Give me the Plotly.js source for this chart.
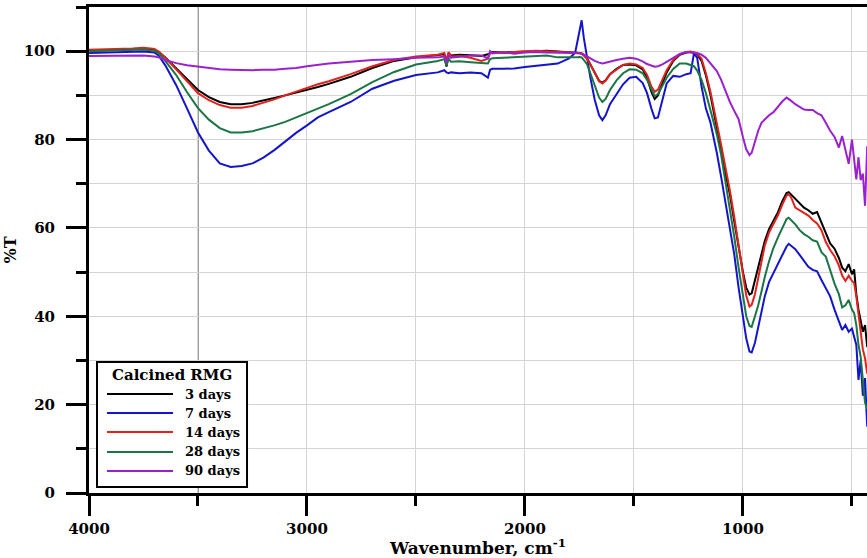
<!DOCTYPE html>
<html>
<head>
<meta charset="utf-8">
<script src="https://cdn.plot.ly/plotly-3.0.1.min.js"></script>
<style>html,body{margin:0;padding:0;background:#fff;}#chart{width:867px;height:558px;}</style>
</head>
<body>
<div id="chart"></div>
<script>
// Wavenumber grid (cm^-1)
const wavenumber = [4000,3900,3800,3750,3700,3680,3650,3600,3550,3500,3450,3400,3350,3300,3250,3200,3150,3100,3050,3000,2950,2900,2800,2700,2600,2500,2400,2370,2360,2350,2340,2300,2250,2200,2170,2160,2150,2100,2050,2000,1950,1900,1850,1800,1770,1750,1740,1730,1715,1700,1680,1660,1645,1630,1610,1580,1550,1520,1490,1460,1440,1420,1405,1390,1370,1350,1320,1290,1260,1240,1225,1210,1190,1170,1150,1120,1100,1080,1060,1040,1020,1000,985,970,960,945,930,915,900,880,860,840,820,800,790,780,760,740,720,700,680,660,640,620,600,580,560,545,530,515,500,490,480,470,460,450,440,430];

const legendTitle = "Calcined RMG";
const seriesNames = ["3 days","7 days","14 days","28 days","90 days"];

const days3 = [100.1,100.3,100.4,100.5,100.3,99.8,98.6,96.2,93.6,91.2,89.6,88.5,88.0,88.0,88.3,88.8,89.4,90.0,90.6,91.2,91.9,92.6,94.2,96.2,97.8,98.6,99.1,99.3,96.5,99.6,99.0,99.2,99.1,98.9,99.3,99.6,99.8,99.7,99.8,100.0,100.1,100.1,99.9,99.8,99.7,99.6,99.5,99.2,98.4,97.0,95.0,93.3,92.9,93.4,94.8,96.0,96.9,97.0,96.8,95.9,94.0,90.8,89.2,90.0,92.7,95.2,97.8,99.2,99.7,99.8,99.6,99.3,97.8,94.5,90.3,83.0,77.5,72.2,67.6,61.5,55.5,50.0,46.5,44.9,45.2,48.0,51.0,54.2,57.0,59.8,61.8,63.5,66.0,67.9,68.1,67.6,66.4,65.5,64.6,64.0,63.2,63.6,61.2,58.5,56.5,55.3,53.2,51.0,50.2,51.8,49.5,50.6,45.0,41.5,39.0,36.5,38.0,33.0];

const days7 = [99.6,99.7,99.8,99.9,99.7,99.0,96.8,92.3,87.0,81.6,77.5,74.6,73.8,74.0,74.6,75.9,77.6,79.6,81.5,83.2,85.0,86.2,88.5,91.5,93.3,94.6,95.2,95.7,95.2,95.0,95.2,95.0,95.2,95.0,94.0,95.8,96.0,96.0,96.1,96.4,96.7,97.0,97.2,98.3,99.6,104.5,107.0,103.0,98.0,94.0,89.0,85.5,84.4,85.5,88.0,90.4,92.5,94.0,94.2,92.8,90.5,87.0,84.8,85.0,89.0,92.7,94.4,94.2,94.8,95.0,99.5,98.5,92.0,87.0,84.0,77.0,71.5,65.5,59.5,54.0,46.5,40.0,35.0,32.0,31.8,34.0,37.6,41.0,44.5,47.8,49.8,51.5,53.8,55.8,56.4,56.0,55.2,53.9,52.5,51.2,50.5,50.2,48.2,46.3,44.5,41.5,39.0,36.9,38.0,36.5,37.2,35.0,33.5,25.6,30.0,22.0,26.0,15.0];

const days14 = [100.3,100.4,100.6,100.8,100.5,99.9,98.5,95.9,93.1,90.5,88.9,87.8,87.2,87.2,87.6,88.3,89.1,90.0,90.9,91.7,92.5,93.2,94.8,96.6,98.0,98.8,99.2,99.6,98.0,99.8,98.8,98.9,98.5,97.8,98.3,99.5,99.7,99.6,99.8,100.0,100.1,100.0,99.9,99.8,99.7,99.6,99.5,99.0,98.2,97.0,95.0,93.2,92.7,93.3,94.8,95.9,96.9,97.2,97.0,96.2,94.6,92.0,90.8,91.3,93.5,95.7,98.0,99.3,99.8,99.9,99.7,99.4,98.3,95.0,91.0,84.0,78.8,73.6,68.5,62.5,55.8,49.3,44.7,42.2,42.6,45.0,48.5,52.5,56.0,59.0,61.0,62.8,65.2,67.3,67.6,67.0,64.6,64.0,63.4,62.8,61.8,61.0,59.5,56.8,55.0,53.6,51.5,49.2,48.0,49.2,48.0,47.5,44.5,40.5,37.0,32.5,30.5,27.0];

const days28 = [100.0,100.1,100.3,100.4,100.1,99.5,97.8,94.6,90.7,87.1,84.5,82.6,81.6,81.6,81.9,82.5,83.2,84.0,85.0,86.0,87.0,88.0,90.3,93.0,95.3,97.0,97.8,98.2,96.8,98.3,97.6,97.7,97.5,97.4,97.2,98.2,98.4,98.5,98.6,98.8,98.9,99.0,98.6,98.5,98.6,98.7,98.6,98.0,97.0,95.0,92.0,89.5,88.5,89.2,91.2,93.4,95.0,95.9,95.8,95.0,93.5,91.2,89.8,90.3,92.3,94.0,96.0,97.2,97.2,96.9,96.6,95.6,93.5,90.5,86.8,81.2,76.5,70.5,64.5,58.0,51.0,44.5,40.0,37.8,37.6,40.0,42.5,45.6,48.9,52.5,55.5,57.8,60.0,62.0,62.3,61.8,60.8,59.5,58.6,58.0,57.2,56.9,54.5,53.5,50.5,47.4,45.0,42.0,42.5,43.7,41.5,40.7,38.0,33.5,30.8,26.0,20.5,19.0];

const days90 = [98.9,99.0,99.0,99.0,98.8,98.6,98.0,97.3,96.8,96.5,96.2,95.9,95.8,95.7,95.7,95.8,95.8,96.0,96.2,96.6,96.9,97.2,97.6,98.0,98.2,98.5,98.6,98.8,97.5,99.0,98.5,98.7,99.0,99.0,98.4,100.0,99.5,99.8,99.4,99.7,99.8,99.7,99.7,99.6,99.6,99.5,99.4,99.2,98.8,98.3,97.8,97.4,97.2,97.4,97.7,98.0,98.3,98.5,98.3,97.7,97.1,96.7,96.5,96.6,97.0,97.6,98.6,99.4,99.8,99.8,99.7,99.6,99.2,98.5,97.3,95.5,93.5,91.0,88.5,86.5,84.6,80.5,77.8,76.5,77.0,79.5,82.0,83.8,84.6,85.5,86.2,87.5,88.6,89.5,89.2,88.8,88.0,87.4,86.8,86.7,86.7,86.0,85.5,83.8,82.0,80.6,78.2,80.8,77.8,74.5,80.0,75.2,71.0,76.0,70.8,72.3,65.0,78.5];

const seriesValues = [days3, days7, days14, days28, days90];
const seriesColors = ["#000000", "#1414cc", "#e3211c", "#1b7544", "#9a22cc"];

const serif = "DejaVu Serif, Liberation Serif, serif";

const traces = seriesValues.map((vals, i) => ({
  x: wavenumber,
  y: vals,
  type: "scatter",
  mode: "lines",
  name: seriesNames[i],
  showlegend: false,
  line: {color: seriesColors[i], width: 2}
}));

// Legend box drawn in paper coordinates (line samples + labels)
const legendRowsY = [0.2037, 0.1646, 0.1255, 0.0844, 0.0453];
const shapes = [
  {type: "line", xref: "x", yref: "y", x0: 3500, x1: 3500, y0: 0, y1: 110, layer: "below", line: {color: "#333", width: 1}},
  {type: "rect", xref: "paper", yref: "paper", x0: 0.0103, x1: 0.2031, y0: 0.0123, y1: 0.2695, fillcolor: "#fff", line: {color: "#000", width: 2}, layer: "above"}
];
const annotations = [
  {xref: "paper", yref: "paper", x: 0.1067, y: 0.2428, xanchor: "center", yanchor: "middle", showarrow: false, text: legendTitle, font: {family: serif, size: 15, weight: "bold", color: "#000"}}
];
seriesNames.forEach((nm, i) => {
  shapes.push({type: "line", xref: "paper", yref: "paper", x0: 0.0231, x1: 0.108, y0: legendRowsY[i], y1: legendRowsY[i], line: {color: seriesColors[i], width: 2}, layer: "above"});
  annotations.push({xref: "paper", yref: "paper", x: 0.1208, y: legendRowsY[i], xanchor: "left", yanchor: "middle", showarrow: false, text: nm, font: {family: serif, size: 13, weight: "bold", color: "#000"}});
});

const layout = {
  width: 867,
  height: 558,
  margin: {l: 89, r: 0, t: 7, b: 65},
  paper_bgcolor: "#fff",
  plot_bgcolor: "#fff",
  font: {family: serif, color: "#000", size: 15, weight: "bold"},
  showlegend: false,
  xaxis: {
    range: [4000, 431],
    tickvals: [4000, 3000, 2000, 1000],
    ticktext: ["4000", "3000", "2000", "1000"],
    ticks: "outside", ticklen: 20, tickwidth: 3, tickcolor: "#000",
    showline: true, linewidth: 3, linecolor: "#000", mirror: true,
    showgrid: true, gridcolor: "#d4d4d4", gridwidth: 1,
    zeroline: false,
    tickfont: {family: serif, size: 15, weight: "bold"},
    minor: {tickvals: [3500, 2500, 1500, 500], ticks: "outside", ticklen: 10, tickwidth: 3, tickcolor: "#000", showgrid: true, gridcolor: "#d4d4d4", gridwidth: 1},
    title: {text: "Wavenumber, cm<sup>-1</sup>", font: {family: serif, size: 17, weight: "bold"}, standoff: 4}
  },
  yaxis: {
    range: [0, 110],
    tickvals: [0, 20, 40, 60, 80, 100],
    ticks: "outside", ticklen: 20, tickwidth: 3, tickcolor: "#000",
    ticklabelstandoff: 8,
    showline: true, linewidth: 3, linecolor: "#000",
    showgrid: true, gridcolor: "#d4d4d4", gridwidth: 1,
    zeroline: false,
    tickfont: {family: serif, size: 15, weight: "bold"},
    minor: {tickvals: [10, 30, 50, 70, 90, 110], ticks: "outside", ticklen: 10, tickwidth: 3, tickcolor: "#000", showgrid: true, gridcolor: "#d4d4d4", gridwidth: 1},
    title: {text: "%T", font: {family: serif, size: 16, weight: "bold"}, standoff: 4}
  },
  shapes: shapes,
  annotations: annotations
};

Plotly.newPlot("chart", traces, layout, {displayModeBar: false, staticPlot: true});
</script>
</body>
</html>
